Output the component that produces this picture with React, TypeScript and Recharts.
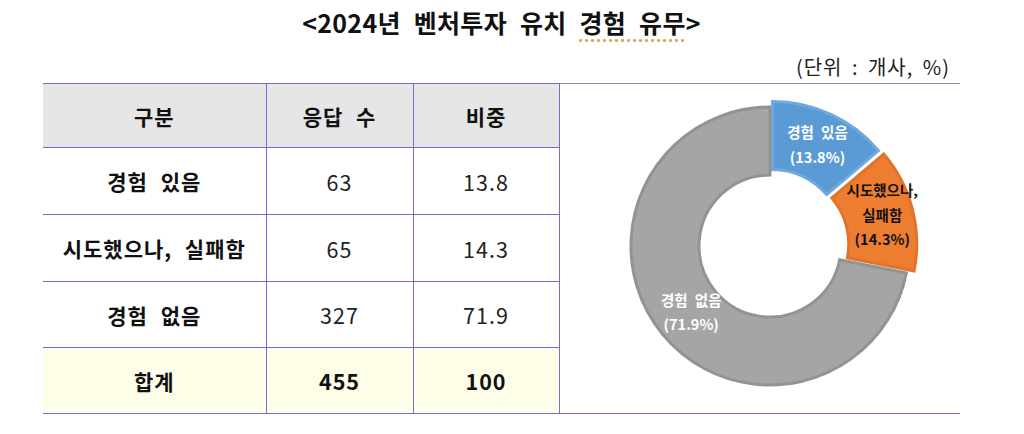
import { PieChart, Pie, Cell, Sector } from "recharts";

// 2024 venture investment attraction experience (unit: companies, %)
const headers = ["구분", "응답 수", "비중"];
const categories = ["경험 있음", "시도했으나, 실패함", "경험 없음"];
const responses = [63, 65, 327];
const shares = [13.8, 14.3, 71.9];
const totalLabel = "합계";
const totalResponses = 455;
const totalShare = 100;

const colors = ["#5b9bd5", "#ed7d31", "#a5a5a5"];
const strokes = ["#6ea9df", "#e27429", "#939393"];
const labelColors = ["#ffffff", "#111111", "#ffffff"];
const explode = [6, 8, 0];
const labelShift = [2, 3, -3];

const FONT = "'Noto Sans CJK KR', 'Noto Sans', sans-serif";
const LINE = "#6e6ed6";
const RADIAN = Math.PI / 180;

const pieData = categories.map((name, i) => ({ name, value: shares[i] }));

function ExplodedSector(props: any) {
  const i = props.index ?? 0;
  const off = explode[i] ?? 0;
  const dx = off * Math.cos(-props.midAngle * RADIAN);
  const dy = off * Math.sin(-props.midAngle * RADIAN);
  return (
    <Sector
      {...props}
      cx={props.cx + dx}
      cy={props.cy + dy}
      fill={colors[i]}
      stroke={strokes[i]}
      strokeWidth={3}
    />
  );
}

function renderLabel(props: any) {
  const { cx, cy, midAngle, innerRadius, outerRadius, index } = props;
  const r = (innerRadius + outerRadius) / 2 + explode[index] + labelShift[index];
  const x = cx + r * Math.cos(-midAngle * RADIAN);
  const y = cy + r * Math.sin(-midAngle * RADIAN) - (index === 1 ? 3 : 0);
  const name = categories[index];
  const lines = name.includes(", ")
    ? [name.split(", ")[0] + ",", name.split(", ")[1]]
    : [name];
  lines.push(`(${shares[index].toFixed(1)}%)`);
  const lh = 24.5;
  const y0 = y - ((lines.length - 1) * lh) / 2;
  return (
    <text
      x={x}
      y={y0}
      textAnchor="middle"
      dominantBaseline="central"
      fill={labelColors[index]}
      fontFamily={FONT}
      fontSize={14.5}
      fontWeight={700}
      style={{ wordSpacing: 4 }}
    >
      {lines.map((l, k) => (
        <tspan key={k} x={x} y={y0 + k * lh}>
          {l}
        </tspan>
      ))}
    </text>
  );
}

const cellBase: React.CSSProperties = {
  textAlign: "center",
  verticalAlign: "middle",
  fontSize: 21,
  letterSpacing: 1,
  wordSpacing: 7,
  color: "#111",
  padding: 0,
  borderBottom: `1px solid ${LINE}`,
  borderRight: `1px solid ${LINE}`,
};

const numCell: React.CSSProperties = { ...cellBase, fontSize: 21.5, color: "#222" };

export default function App() {
  const rowHeights = [67, 67, 66, 66];
  return (
    <div
      style={{
        position: "fixed",
        left: 0,
        top: 0,
        width: 1024,
        height: 434,
        background: "#fff",
        fontFamily: FONT,
        overflow: "hidden",
      }}
    >
      <div
        style={{
          position: "absolute",
          left: 0,
          width: 1003,
          top: 3,
          textAlign: "center",
          fontSize: 25,
          fontWeight: 700,
          color: "#111",
          lineHeight: "38px",
          letterSpacing: 0.3,
          wordSpacing: 7,
        }}
      >
        &lt;2024년 벤처투자 유치{" "}
        <span style={{ textDecoration: "underline dotted #e0a050", textUnderlineOffset: 6 }}>
          경험 유무
        </span>
        &gt;
      </div>
      <div
        style={{
          position: "absolute",
          right: 74,
          top: 54,
          fontSize: 20,
          color: "#222",
          lineHeight: "26px",
          letterSpacing: 1,
          wordSpacing: 4,
        }}
      >
        (단위 : 개사, %)
      </div>
      <table
        style={{
          position: "absolute",
          left: 43,
          top: 83,
          width: 917,
          borderCollapse: "collapse",
          tableLayout: "fixed",
        }}
      >
        <colgroup>
          <col style={{ width: 223 }} />
          <col style={{ width: 147 }} />
          <col style={{ width: 146 }} />
          <col style={{ width: 401 }} />
        </colgroup>
        <tbody>
          <tr style={{ height: 64 }}>
            {headers.map((h) => (
              <td
                key={h}
                style={{
                  ...cellBase,
                  background: "#e6e6e6",
                  fontWeight: 700,
                  borderTop: `1px solid ${LINE}`,
                }}
              >
                {h}
              </td>
            ))}
            <td
              rowSpan={5}
              style={{
                padding: 0,
                borderTop: "1px solid #8c8cbc",
                borderBottom: `1px solid ${LINE}`,
                verticalAlign: "top",
              }}
            >
              <PieChart width={400} height={328}>
                <Pie
                  data={pieData}
                  dataKey="value"
                  nameKey="name"
                  cx={205}
                  cy={157}
                  innerRadius={71}
                  outerRadius={139}
                  startAngle={90}
                  endAngle={-270}
                  stroke="none"
                  shape={ExplodedSector}
                  label={renderLabel}
                  labelLine={false}
                  isAnimationActive={false}
                >
                  {pieData.map((d, i) => (
                    <Cell key={d.name} fill={colors[i]} />
                  ))}
                </Pie>
              </PieChart>
            </td>
          </tr>
          {categories.map((c, i) => (
            <tr key={c} style={{ height: rowHeights[i] }}>
              <td style={{ ...cellBase, fontWeight: 700 }}>{c}</td>
              <td style={numCell}>{responses[i]}</td>
              <td style={numCell}>{shares[i].toFixed(1)}</td>
            </tr>
          ))}
          <tr style={{ height: rowHeights[3] }}>
            <td style={{ ...cellBase, fontWeight: 700, background: "#fefee8" }}>{totalLabel}</td>
            <td style={{ ...numCell, fontWeight: 700, background: "#fefee8", color: "#111" }}>
              {totalResponses}
            </td>
            <td style={{ ...numCell, fontWeight: 700, background: "#fefee8", color: "#111" }}>
              {totalShare}
            </td>
          </tr>
        </tbody>
      </table>
    </div>
  );
}
